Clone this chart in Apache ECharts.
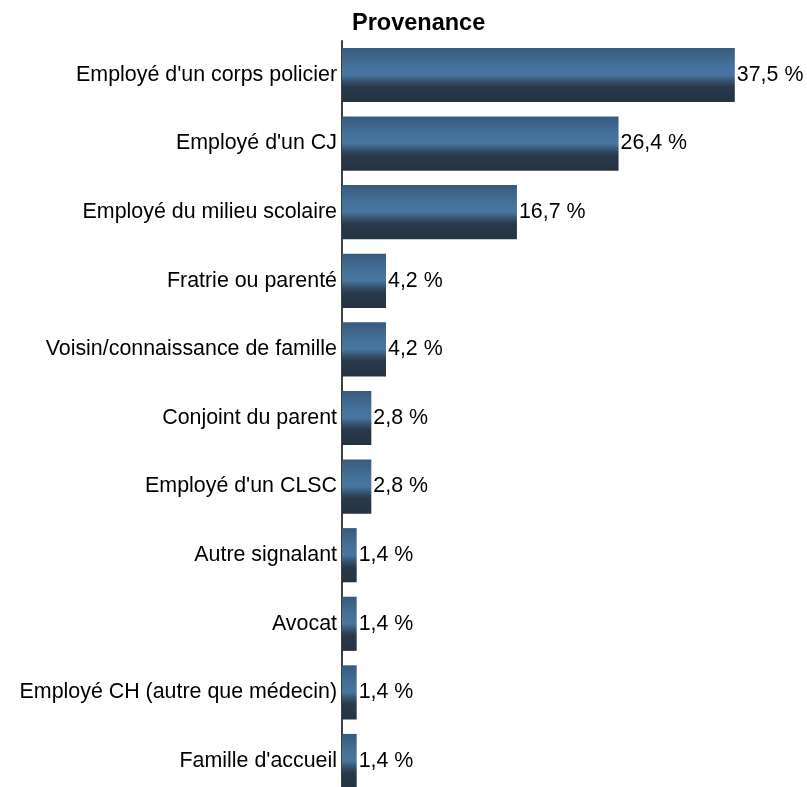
<!DOCTYPE html>
<html><head><meta charset="utf-8">
<script src="https://cdn.jsdelivr.net/npm/echarts@6/dist/echarts.min.js"></script>
<style>html,body{margin:0;padding:0;background:#fff}#c{width:807px;height:787px}</style>
</head><body><div id="c"></div>
<script>
const categories = ["Employé d'un corps policier","Employé d'un CJ","Employé du milieu scolaire","Fratrie ou parenté","Voisin/connaissance de famille","Conjoint du parent","Employé d'un CLSC","Autre signalant","Avocat","Employé CH (autre que médecin)","Famille d'accueil"];
const values = [37.5,26.4,16.7,4.2,4.2,2.8,2.8,1.4,1.4,1.4,1.4];
const titleText = "Provenance";

const chart = echarts.init(document.getElementById('c'));
const grad = new echarts.graphic.LinearGradient(0,0,0,1,[
  {offset:0,color:'#395b7c'},
  {offset:0.35,color:'#45729b'},
  {offset:0.5,color:'#4876a0'},
  {offset:0.62,color:'#33506c'},
  {offset:0.72,color:'#29394a'},
  {offset:1,color:'#253342'}
]);
chart.setOption({
  animation:false,
  title:{text:titleText,left:347,top:7,textStyle:{fontFamily:'Liberation Sans, Arial',fontSize:23.5,fontWeight:'bold',color:'#000'}},
  grid:{left:342,width:419,top:40.7,height:754.6,containLabel:false,outerBoundsMode:'none'},
  xAxis:{type:'value',min:0,max:40,show:false},
  yAxis:{type:'category',data:categories,inverse:true,
    axisLine:{show:true,lineStyle:{color:'#000',width:1.5}},
    axisTick:{show:false},
    axisLabel:{fontFamily:'Liberation Sans, Arial',fontSize:21.4,color:'#000',margin:5}},
  series:[{type:'bar',data:values,barCategoryGap:'21%',
    itemStyle:{color:grad},
    label:{show:true,position:'right',distance:2,fontFamily:'Liberation Sans, Arial',fontSize:21.4,color:'#000',
      formatter:p=>p.value.toFixed(1).replace('.',',')+' %'}}]
});
</script></body></html>
